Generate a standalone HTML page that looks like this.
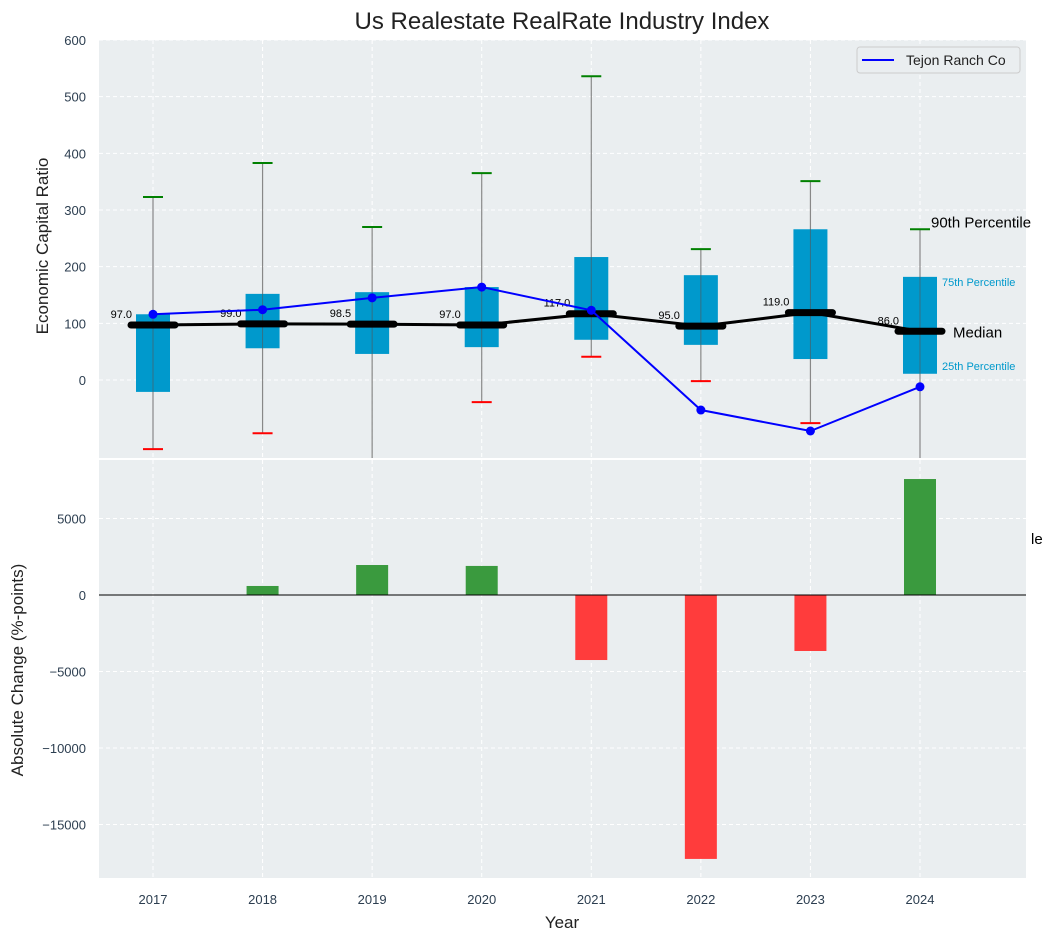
<!DOCTYPE html>
<html><head><meta charset="utf-8"><style>
body{margin:0;background:#fff;font-family:"Liberation Sans",sans-serif}
svg text{font-family:"Liberation Sans",sans-serif}
</style></head><body>
<svg id="c" width="1051" height="940" viewBox="0 0 1051 940" xmlns="http://www.w3.org/2000/svg"></svg>
<script>
const years=[2017,2018,2019,2020,2021,2022,2023,2024];
const p10=[-122,-94,-160,-39,41,-2,-76,-160];
const p25=[-21,56,46,58,71,62,37,11];
const medians=[97,99,98.5,97,117,95,119,86];
const p75=[116,152,155,164,217,185,266,182];
const p90=[323,383,270,365,536,231,351,266];
const company=[116,124,145,164,123,-53,-90,-12];
const changes=[0,590,1960,1900,-4250,-17250,-3660,7580];
const topTicks=[0,100,200,300,400,500,600];
const botTicks=[5000,0,-5000,-10000,-15000];

const NS="http://www.w3.org/2000/svg";
const svg=document.getElementById('c');
function mk(t,a,p){const e=document.createElementNS(NS,t);for(const k in a)e.setAttribute(k,a[k]);(p||svg).appendChild(e);return e;}
const L=99,R=1026,T1=40,B1=458,T2=460,B2=878;
const x=y=>153+(y-2017)*(920-153)/7;
const yt=v=>380-v*(340/600);
const yb=v=>595-v*(76.5/5000);

// panels
let e=mk('rect',{x:L,y:T1,width:R-L,height:B1-T1,fill:'#eaeef0'});

e=mk('rect',{x:L,y:T2,width:R-L,height:B2-T2,fill:'#eaeef0'});


// grids
years.forEach(yr=>{
  mk('line',{x1:x(yr),x2:x(yr),y1:T1,y2:B1,stroke:'#fff','stroke-dasharray':'4,3','stroke-width':1});
  mk('line',{x1:x(yr),x2:x(yr),y1:T2,y2:B2,stroke:'#fff','stroke-dasharray':'4,3','stroke-width':1});
  const t=mk('text',{x:x(yr),y:904,'text-anchor':'middle','font-size':13,fill:'#2c3e50'});t.textContent=yr;
  
});
topTicks.forEach(v=>{
  mk('line',{x1:L,x2:R,y1:yt(v),y2:yt(v),stroke:'#fff','stroke-dasharray':'4,3'});
  const t=mk('text',{x:86,y:yt(v)+5,'text-anchor':'end','font-size':13,fill:'#2c3e50'});t.textContent=v;
  
});
botTicks.forEach(v=>{
  mk('line',{x1:L,x2:R,y1:yb(v),y2:yb(v),stroke:'#fff','stroke-dasharray':'4,3'});
  const t=mk('text',{x:86,y:yb(v)+5,'text-anchor':'end','font-size':13,fill:'#2c3e50'});t.textContent=String(v).replace('-','\u2212');
  
});

// top panel clip
const defs=mk('defs',{});
const cp=mk('clipPath',{id:'cp1'},defs);mk('rect',{x:L,y:T1,width:R-L,height:B1-T1},cp);
const g=mk('g',{'clip-path':'url(#cp1)'});
years.forEach((yr,i)=>{
  const cx=x(yr);
  let w=mk('line',{x1:cx,x2:cx,y1:yt(p90[i]),y2:yt(p10[i]),stroke:'#888','stroke-width':1.2},g);
  
  let b=mk('rect',{x:cx-17,y:yt(p75[i]),width:34,height:yt(p25[i])-yt(p75[i]),fill:'#0099cc'},g);
  
  mk('line',{x1:cx,x2:cx,y1:yt(p75[i]),y2:yt(p25[i]),stroke:'#555','stroke-width':1,opacity:0.6},g);
  let h=mk('line',{x1:cx-10,x2:cx+10,y1:yt(p90[i]),y2:yt(p90[i]),stroke:'green','stroke-width':2},g);
  
  h=mk('line',{x1:cx-10,x2:cx+10,y1:yt(p10[i]),y2:yt(p10[i]),stroke:'red','stroke-width':2},g);
  
});
// median line
let ml=mk('polyline',{points:years.map((yr,i)=>x(yr)+','+yt(medians[i])).join(' '),fill:'none',stroke:'#000','stroke-width':3},g);

years.forEach((yr,i)=>{
  const cx=x(yr);
  let m=mk('line',{x1:cx-22,x2:cx+22,y1:yt(medians[i]),y2:yt(medians[i]),stroke:'#000','stroke-width':7,'stroke-linecap':'round'},g);
  
  const t=mk('text',{x:cx-21,y:yt(medians[i])-7,'text-anchor':'end','font-size':11,fill:'#000'},g);t.textContent=medians[i].toFixed(1);
  
});
let cl=mk('polyline',{points:years.map((yr,i)=>x(yr)+','+yt(company[i])).join(' '),fill:'none',stroke:'#0000ff','stroke-width':2},g);

years.forEach((yr,i)=>{
  const d=mk('circle',{cx:x(yr),cy:yt(company[i]),r:4.5,fill:'#0000ff'},g);
  
});
// annotations at last year
const lx=x(2024);
function ann(txt,xx,yy,sz,col,name){const t=mk('text',{x:xx,y:yy,'font-size':sz,fill:col});t.textContent=txt;}
ann('90th Percentile',lx+11,yt(p90[7])-2,15,'#000','p90-annotation');
ann('75th Percentile',lx+22,yt(p75[7])+9,11,'#0099cc','p75-annotation');
ann('Median',lx+33,yt(medians[7])+6,15,'#000','median-annotation');
ann('25th Percentile',lx+22,yt(p25[7])-4,11,'#0099cc','p25-annotation');
ann('le',1031,544,15,'#000','clipped-annotation');

// legend
const lg=mk('g',{});
mk('rect',{x:857,y:47,width:163,height:26,rx:3,fill:'#eaeef0',stroke:'#ccc'},lg);
mk('line',{x1:862,x2:894,y1:60,y2:60,stroke:'#0000ff','stroke-width':2},lg);
let lt=mk('text',{x:906,y:65,'font-size':14,fill:'#222'},lg);lt.textContent='Tejon Ranch Co';

// bottom bars
years.forEach((yr,i)=>{
  const v=changes[i];const y0=yb(0),y1=yb(v);
  const r=mk('rect',{x:x(yr)-16,y:Math.min(y0,y1),width:32,height:Math.abs(y1-y0),fill:v>=0?'#3a9a3e':'#ff3c3c'});
  
});
mk('line',{x1:L,x2:R,y1:yb(0),y2:yb(0),stroke:'#000','stroke-width':1});

// titles
function lab(txt,a,name){const t=mk('text',a);t.textContent=txt;}
lab('Us Realestate RealRate Industry Index',{x:562,y:29,'text-anchor':'middle','font-size':24,fill:'#222'},'chart-title');
lab('Economic Capital Ratio',{x:48,y:246,'text-anchor':'middle','font-size':17,fill:'#222',transform:'rotate(-90 48 246)'},'top-y-axis-title');
lab('Absolute Change (%-points)',{x:23,y:670,'text-anchor':'middle','font-size':17,fill:'#222',transform:'rotate(-90 23 670)'},'bottom-y-axis-title');
lab('Year',{x:562,y:928,'text-anchor':'middle','font-size':17,fill:'#222'},'x-axis-title');
</script>
</body></html>
